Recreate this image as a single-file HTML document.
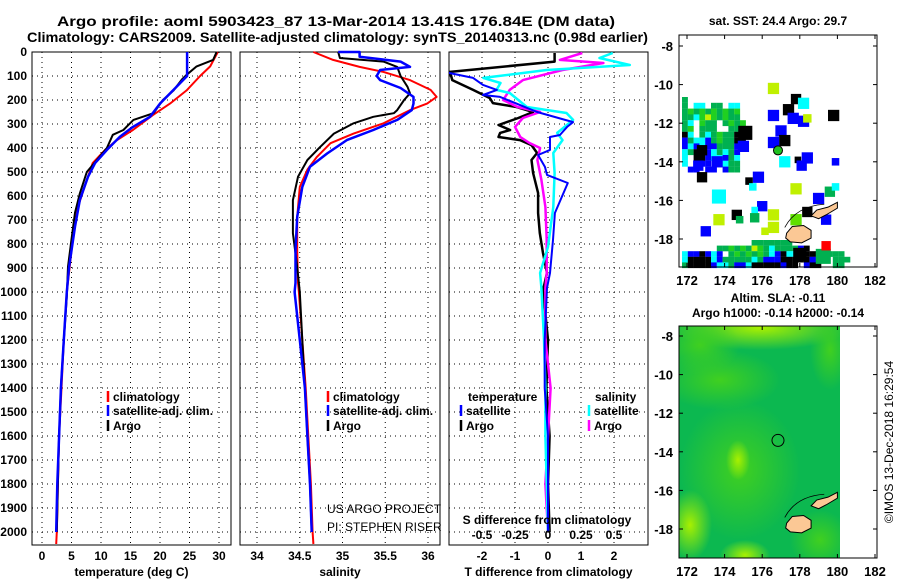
<!DOCTYPE html>
<html><head><meta charset="utf-8"><style>
html,body{margin:0;padding:0;background:#fff}
svg{display:block}
text{font-family:"Liberation Sans",Arial,sans-serif;fill:#000}
.b{font-weight:bold;font-size:12px}
</style></head><body>
<svg id="fig" width="900" height="580" viewBox="0 0 900 580" xmlns="http://www.w3.org/2000/svg">
<text x="57" y="26" class="b" style="font-size:14px" textLength="558" lengthAdjust="spacingAndGlyphs">Argo profile: aoml 5903423_87 13-Mar-2014 13.41S 176.84E (DM data)</text>
<text x="27" y="42" class="b" style="font-size:14px" textLength="621" lengthAdjust="spacingAndGlyphs">Climatology: CARS2009. Satellite-adjusted climatology: synTS_20140313.nc (0.98d earlier)</text>
<text x="778" y="25" class="b" text-anchor="middle">sat. SST: 24.4 Argo: 29.7</text>
<text x="778" y="302" class="b" text-anchor="middle">Altim. SLA: -0.11</text>
<text x="778" y="317" class="b" text-anchor="middle">Argo h1000: -0.14 h2000: -0.14</text>
<text transform="translate(893,442) rotate(-90)" text-anchor="middle" style="font-size:12px">©IMOS 13-Dec-2018 16:29:54</text>
<g id="g1"></g><g id="g2"></g><g id="g3"></g><g id="m1"></g><g id="m2"></g>
</svg>
<script>
// ---------- data ----------
const depthTicks=[0,100,200,300,400,500,600,700,800,900,1000,1100,1200,1300,1400,1500,1600,1700,1800,1900,2000];
const tempTicks=[0,5,10,15,20,25,30];
const salTicks=[34,34.5,35,35.5,36];
const salTickLabels=["34","34.5","35","35.5","36"];
const tdiffTicks=[-2,-1,0,1,2];
const sdiffTicks=[-0.5,-0.25,0,0.25,0.5];
const sdiffTickLabels=["-0.5","-0.25","0","0.25","0.5"];

const depthTArgo=[0,33,60,95,115,160,200,255,283,325,345,400,450,500,590,670,780,895,1020,1200,1400,1600,1800,2000];
const tempArgo=[29.6,29,26.2,24.5,23.7,22.3,20.5,18.9,15.5,13.8,12,11,9.3,7.6,6.4,5.6,5,4.4,4.2,3.7,3.2,2.9,2.7,2.5];
const depthTClim=[0,60,100,160,215,263,325,367,408,463,533,645,755,895,1000,1200,1400,1600,1800,2000,2050];
const tempClim=[29.8,28.5,26.8,24.5,21.7,18.8,15.4,12.7,10.7,8.6,7.6,6.1,5.3,4.7,4.2,3.7,3.3,2.9,2.7,2.5,2.4];
const depthTSat=[0,100,160,215,270,312,353,408,463,520,617,728,895,1000,1200,1400,1600,1800,2000];
const tempSat=[24.6,24.6,22.2,20,18.3,15.4,13.2,11,9,7.8,6.4,5.6,4.6,4.2,3.7,3.2,2.9,2.6,2.4];

const depthSClim=[0,33,62,83,117,158,187,215,242,297,340,380,437,490,562,687,825,962,1000,1200,1400,1600,1800,2000,2050];
const salClim=[34.66,34.89,35.2,35.48,35.79,36.03,36.1,35.99,35.79,35.48,35.13,34.86,34.7,34.59,34.5,34.47,34.47,34.48,34.49,34.53,34.57,34.6,34.63,34.65,34.66];
const depthSArgo=[0,25,40,62,100,145,172,200,242,255,270,297,340,395,450,520,617,755,895,1000,1200,1400,1600,1800,2000];
const salArgo=[34.95,34.97,35.48,35.64,35.68,35.76,35.79,35.72,35.64,35.6,35.36,35.13,34.9,34.74,34.59,34.48,34.42,34.42,34.47,34.5,34.53,34.56,34.59,34.62,34.64];
const depthSSat=[0,0,20,40,62,75,100,117,150,187,215,242,283,325,367,423,478,562,687,825,962,1000,1200,1400,1600,1800,2000];
const salSat=[34.95,35.2,35.2,35.68,35.79,35.44,35.4,35.44,35.68,35.83,35.83,35.81,35.64,35.36,35.05,34.82,34.62,34.53,34.47,34.45,34.45,34.44,34.5,34.56,34.59,34.62,34.64];

const depthDTArgo=[4,40,83,117,158,192,213,229,250,275,304,325,337,354,367,388,421,450,504,588,671,754,838,921,992,1200,1400,1600,1800,2000];
const tdiffArgo=[0.2,0.2,-2.97,-2.9,-2.27,-1.76,-1.67,-0.95,-0.45,-0.9,-1.5,-1.15,-1.45,-1.5,-0.85,-0.5,-0.33,-0.5,-0.45,-0.3,-0.3,-0.25,-0.15,-0.03,-0.15,0,-0.05,0.05,0,0.05];
const depthDTSat=[0,88,108,137,158,179,187,250,292,312,346,354,408,429,479,512,546,671,783,921,983,1200,1400,1600,1800,2000];
const tdiffSat=[-5,-2.97,-2.27,-1.97,-1.55,-1.97,-1.45,-0.33,0.76,0.58,0.36,0.06,0.06,-0.3,-0.09,-0.03,0.6,0.21,0.15,0.06,-0.03,-0.1,-0.1,0,0,0];
const depthDSArgo=[4,33,46,75,117,158,200,229,250,275,312,354,379,400,450,533,646,783,921,983,1200,1400,1600,1800,2000];
const sdiffArgo=[0.26,0.09,0.42,0.11,-0.19,-0.29,-0.34,-0.23,-0.06,-0.19,-0.25,-0.21,-0.14,-0.06,-0.08,-0.05,-0.02,-0.01,-0.01,-0.02,-0.02,0.02,0,-0.02,0];
const depthDSSat=[4,25,54,75,108,129,158,171,229,254,283,337,367,421,504,646,812,921,983,1200,1400,1600,1800,2000];
const sdiffSat=[0.49,0.39,0.62,-0.01,-0.49,-0.36,-0.39,-0.29,-0.16,0.14,0.19,0.07,0.11,0.04,0.05,0.04,0,-0.06,-0.05,-0.03,-0.02,-0.02,-0.01,0];

// map data (lon, lat, size deg, colour)
const sstLon=[176.6,177.8,178.2,177.4,176.6,177.65,178.2,178.4,179.8,175.1,177.0,177.2,176.6,175.0,172.8,173.6,172.6,177.2,177.9,178.4,178.1,179.9,172.8,175.8,175.3,175.5,173.7,177.8,179.6,179.0,179.9,176.0,175.6,174.65,174.8,175.6,176.6,173.7,176.6,178.4,179.4,177.8,173.0,176.15,178.0,179.25,179.4];
const sstLat=[-10.2,-10.75,-10.97,-11.3,-11.6,-11.75,-11.9,-11.75,-11.6,-12.5,-12.4,-12.9,-13.0,-13.2,-13.4,-14.0,-14.2,-14.0,-13.9,-13.8,-14.2,-14.0,-14.8,-14.8,-15.0,-15.3,-15.8,-15.4,-15.55,-15.9,-15.3,-16.3,-16.5,-16.75,-17.0,-16.9,-16.75,-17.0,-17.4,-16.6,-17.0,-17.0,-17.6,-17.6,-18.8,-18.9,-18.35];
const sstSize=[0.6,0.55,0.6,0.6,0.6,0.6,0.6,0.45,0.6,0.75,0.6,0.6,0.6,0.6,0.55,0.6,0.55,0.6,0.35,0.6,0.55,0.4,0.55,0.6,0.4,0.4,0.75,0.6,0.55,0.6,0.4,0.55,0.35,0.55,0.4,0.5,0.6,0.6,0.6,0.55,0.55,0.6,0.55,0.4,0.7,0.8,0.5];
const sstColor=["#c0f000","#000","#00ffff","#000","#0000ff","#0000ff","#0000ff","#c0f000","#000","#000","#0000ff","#000","#0000ff","#0000ff","#000","#0000ff","#0000ff","#00ffff","#000","#0000ff","#0000ff","#0000ff","#000","#0000ff","#000","#00ffff","#00ffff","#c0f000","#00b050","#0000ff","#00ffff","#0000ff","#00ffff","#000","#00b050","#00b050","#c0f000","#c0f000","#c0f000","#000","#0000ff","#60e000","#0000ff","#c0f000","#000","#00b050","#ff0000"];
const blobRows=["g..........","g.cc.gg.cc.","gGgGgGgGgG.","ggcGyGgGgg.","gc.Ggg.gGgG","gG.ggg..ggK","Kc.gcgGggKK","bgccbgGggKK","bcbcbbgggbK","cgKKbcgcgb.","c.KKbccbgc.","c..bb.bcgg.",".bb.bb.bgg."];
const bandRows=["............ggggggg.........","......ggGgGgyGgcggggbK......","cbbKbcb.gGgGgGgcbKccbKKK.ggg","cKKKKcbgggggcgbbbKKKKKbbK.ggg","gKKKKbccgbbcKKKKKbKK.bKK..gg"];
const argoLon=176.84, argoLat=-13.41;
const lonTicks=[172,174,176,178,180,182];
const latTicks=[-8,-10,-12,-14,-16,-18];

// ---------- helpers ----------
const NS="http://www.w3.org/2000/svg";
function mk(parent,tag,attrs){const e=document.createElementNS(NS,tag);for(const k in attrs)e.setAttribute(k,attrs[k]);parent.appendChild(e);return e;}
const Y0=52,DY=0.24,PB=545;
const yD=d=>Y0+d*DY;

function frame(g,x0,x1,xt,xfn,labels,title,showY,name){
  const r=mk(g,'rect',{x:x0,y:Y0,width:x1-x0,height:PB-Y0,fill:'none',stroke:'#000','stroke-width':1});
  
  
  depthTicks.forEach(d=>{
    const l=mk(g,'line',{x1:x0,x2:x1,y1:yD(d),y2:yD(d),stroke:'#000','stroke-dasharray':'1,4'});
    
    
    if(showY){const t=mk(g,'text',{x:27,y:yD(d)+4,'text-anchor':'end',class:'b'});t.textContent=d;
      
      }
  });
  xt.forEach((v,i)=>{
    const l=mk(g,'line',{x1:xfn(v),x2:xfn(v),y1:Y0,y2:PB,stroke:'#000','stroke-dasharray':'1,4'});
    
    
    const t=mk(g,'text',{x:xfn(v),y:560,'text-anchor':'middle',class:'b'});t.textContent=labels[i];
    
    
  });
  const t=mk(g,'text',{x:(x0+x1)/2,y:576,'text-anchor':'middle',class:'b'});t.textContent=title;
  
  
}
function line(g,ds,vs,xfn,color,w,name,clip){
  const pts=ds.map((d,i)=>xfn(vs[i]).toFixed(1)+','+yD(d).toFixed(1)).join(' ');
  const p=mk(g,'polyline',{points:pts,fill:'none',stroke:color,'stroke-width':w,'stroke-linejoin':'round'});
  if(clip)p.setAttribute('clip-path',clip);
  
  
}
function legend(g,x,y,color,label,name){
  const l=mk(g,'line',{x1:x,x2:x,y1:y-10,y2:y+1,stroke:color,'stroke-width':2.5});
  
  
  const t=mk(g,'text',{x:x+5,y:y,class:'b'});t.textContent=label;
  
  
}
const svg=document.getElementById('fig');
const defs=mk(svg,'defs',{});
const cp=mk(defs,'clipPath',{id:'c3'});mk(cp,'rect',{x:449,y:Y0,width:199,height:PB-Y0});

// panel 1 temperature
const g1=document.getElementById('g1');
const xT=v=>42+v*5.9;
frame(g1,32,231,tempTicks,xT,tempTicks.map(String),'temperature (deg C)',true,'temperature');
line(g1,depthTClim,tempClim,xT,'#f00',2,'temp-climatology-line');
line(g1,depthTArgo,tempArgo,xT,'#000',2,'temp-argo-line');
line(g1,depthTSat,tempSat,xT,'#00f',2.5,'temp-satellite-line');
legend(g1,108,401,'#f00','climatology','legend-climatology');
legend(g1,108,415,'#00f','satellite-adj. clim.','legend-satellite');
legend(g1,108,430,'#000','Argo','legend-argo');

// panel 2 salinity
const g2=document.getElementById('g2');
const xS=v=>257+(v-34)*85.5;
frame(g2,240,440,salTicks,xS,salTickLabels,'salinity',false,'salinity');
line(g2,depthSClim,salClim,xS,'#f00',2,'sal-climatology-line');
line(g2,depthSArgo,salArgo,xS,'#000',2,'sal-argo-line');
line(g2,depthSSat,salSat,xS,'#00f',2.5,'sal-satellite-line');
legend(g2,328,401,'#f00','climatology','legend-climatology');
legend(g2,328,415,'#00f','satellite-adj. clim.','legend-satellite');
legend(g2,328,430,'#000','Argo','legend-argo');
[['US ARGO PROJECT',513],['PI: STEPHEN RISER',531]].forEach(a=>{const t=mk(g2,'text',{x:327,y:a[1],style:'font-size:12px'});t.textContent=a[0];
  
  });

// panel 3 differences
const g3=document.getElementById('g3');
const xDT=v=>548+v*33;
const xDS=v=>548+v*132;
frame(g3,449,648,tdiffTicks,xDT,tdiffTicks.map(String),'T difference from climatology',false,'difference');
line(g3,depthDTArgo,tdiffArgo,xDT,'#000',2.5,'tdiff-argo-line','url(#c3)');
line(g3,depthDSArgo,sdiffArgo,xDS,'#f0f',2.5,'sdiff-argo-line','url(#c3)');
line(g3,depthDSSat,sdiffSat,xDS,'#0ff',2.5,'sdiff-satellite-line','url(#c3)');
line(g3,depthDTSat,tdiffSat,xDT,'#00f',2,'tdiff-satellite-line','url(#c3)');
{const t=mk(g3,'text',{x:468,y:401,class:'b'});t.textContent='temperature';
 const s=mk(g3,'text',{x:595,y:401,class:'b'});s.textContent='salinity';}
legend(g3,461,415,'#00f','satellite','legend-t-satellite');
legend(g3,461,430,'#000','Argo','legend-t-argo');
legend(g3,589,415,'#0ff','satellite','legend-s-satellite');
legend(g3,589,430,'#f0f','Argo','legend-s-argo');
{const t=mk(g3,'text',{x:547,y:524,'text-anchor':'middle',class:'b'});t.textContent='S difference from climatology';
 }
sdiffTicks.forEach((v,i)=>{const t=mk(g3,'text',{x:xDS(v),y:539,'text-anchor':'middle',class:'b'});t.textContent=sdiffTickLabels[i];
  
  });

// ---------- maps ----------
const cmap={g:'#00b050',G:'#20d020',y:'#c0f000',c:'#00ffff',b:'#0000ff',K:'#000000'};
function mapAxes(g,top,yLat8,name){
  const lonX=l=>687+(l-172)*18.8;
  const latY=l=>yLat8+(-8-l)*19.3;
  return {lonX,latY,draw(){
    const r=mk(g,'rect',{x:679,y:top,width:198,height:232,fill:'none',stroke:'#000'});
    
    
    lonTicks.forEach(l=>{mk(g,'line',{x1:lonX(l),x2:lonX(l),y1:top+232,y2:top+228,stroke:'#000'});mk(g,'line',{x1:lonX(l),x2:lonX(l),y1:top,y2:top+4,stroke:'#000'});
      const t=mk(g,'text',{x:lonX(l),y:top+250,'text-anchor':'middle',class:'b',style:'font-size:13px'});t.textContent=l;
      
      });
    latTicks.forEach(l=>{mk(g,'line',{x1:679,x2:683,y1:latY(l),y2:latY(l),stroke:'#000'});mk(g,'line',{x1:877,x2:873,y1:latY(l),y2:latY(l),stroke:'#000'});
      const t=mk(g,'text',{x:673,y:latY(l)+5,'text-anchor':'end',class:'b',style:'font-size:13px'});t.textContent=l;
      
      });
  }};
}
function islands(g,A){
  const vl=[[177.3,-17.7],[177.6,-17.35],[178.2,-17.3],[178.6,-17.55],[178.6,-17.95],[178.1,-18.2],[177.5,-18.15],[177.25,-17.95]];
  const vn=[[178.6,-16.8],[178.9,-16.5],[179.5,-16.35],[180.0,-16.1],[180.0,-16.4],[179.4,-16.75],[179.0,-16.95]];
  [vl,vn].forEach(p=>{const e=mk(g,'polygon',{points:p.map(q=>A.lonX(q[0])+','+A.latY(q[1])).join(' '),fill:'#fbc895',stroke:'#000','stroke-width':1});
    
    });
  const reef=mk(g,'path',{d:`M${A.lonX(177.2)},${A.latY(-17.4)} Q${A.lonX(177.8)},${A.latY(-16.3)} ${A.lonX(179.3)},${A.latY(-16.2)}`,fill:'none',stroke:'#000','stroke-width':0.8});
  
  
}
// SST map
const m1=document.getElementById('m1');
const A1=mapAxes(m1,35,46,'sst-map');
mk(m1,'rect',{x:679,y:35,width:198,height:232,fill:'#fff'});
blobRows.forEach((row,r)=>[...row].forEach((ch,c)=>{if(cmap[ch]){const e=mk(m1,'rect',{x:682+c*5.8,y:97+r*5.8,width:5.9,height:5.9,fill:cmap[ch]});
  
  }}));
bandRows.forEach((row,r)=>[...row].forEach((ch,c)=>{if(cmap[ch]){const e=mk(m1,'rect',{x:682+c*5.8,y:240+r*5.6,width:5.9,height:5.7,fill:cmap[ch]});
  
  }}));
sstLon.forEach((l,i)=>{const s=sstSize[i]*18.8;const e=mk(m1,'rect',{x:A1.lonX(l)-s/2,y:A1.latY(sstLat[i])-s/2,width:s,height:s,fill:sstColor[i]});
  
  });
islands(m1,A1);
{const c=mk(m1,'circle',{cx:A1.lonX(argoLon),cy:A1.latY(argoLat),r:4.5,fill:'#20c020',stroke:'#000'});
 }
A1.draw();

// SLA map
const m2=document.getElementById('m2');
const A2=mapAxes(m2,326,336,'sla-map');
const gr=mk(defs,'radialGradient',{id:'rg',cx:'50%',cy:'50%',r:'50%'});
mk(gr,'stop',{offset:'0','stop-color':'#a8f000'});mk(gr,'stop',{offset:'1','stop-color':'#a8f000','stop-opacity':0});
const gr2=mk(defs,'radialGradient',{id:'rg2',cx:'50%',cy:'50%',r:'50%'});
mk(gr2,'stop',{offset:'0','stop-color':'#40d020'});mk(gr2,'stop',{offset:'1','stop-color':'#40d020','stop-opacity':0});
{const e=mk(m2,'rect',{x:679,y:326,width:161,height:232,fill:'#0cb850'});}
const g2c=mk(m2,'g',{'clip-path':'url(#c4)'});
const cp4=mk(defs,'clipPath',{id:'c4'});mk(cp4,'rect',{x:679,y:326,width:161,height:232});
[[760,328,90,22,'rg'],[700,345,40,30,'rg2'],[720,380,60,30,'rg2'],[740,470,60,70,'rg2'],[738,460,12,20,'rg'],[690,525,22,35,'rg'],[745,555,25,15,'rg'],[820,540,30,30,'rg2'],[830,350,20,40,'rg2']].forEach(a=>{
  const e=mk(g2c,'ellipse',{cx:a[0],cy:a[1],rx:a[2],ry:a[3],fill:`url(#${a[4]})`});
  
  });
islands(m2,A2);
{const c=mk(m2,'circle',{cx:A2.lonX(argoLon),cy:A2.latY(argoLat),r:6,fill:'none',stroke:'#000'});
 }
A2.draw();
</script>
</body></html>
